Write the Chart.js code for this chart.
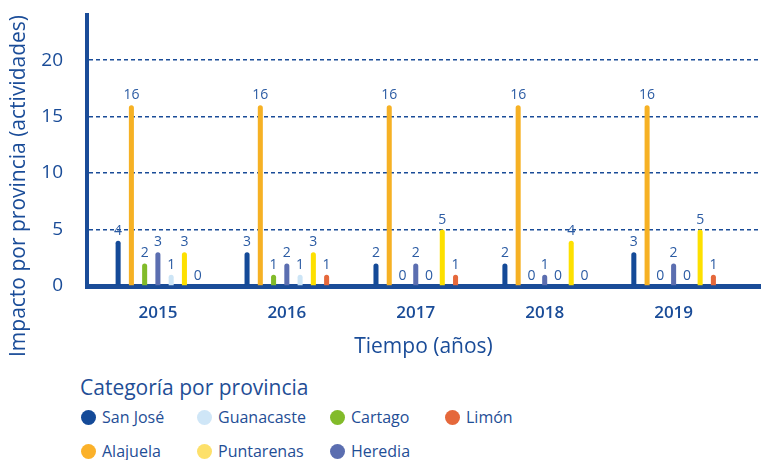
<!DOCTYPE html>
<html>
<head>
<meta charset="utf-8">
<script src="https://cdn.jsdelivr.net/npm/chart.js@4/dist/chart.umd.min.js"></script>
<style>
  body { margin: 0; background: #fff; font-family: "Open Sans", sans-serif; color: #1f4e96; }
  #wrap { position: relative; width: 765px; height: 460px; }
  #legend { position: absolute; left: 0; top: 370px; width: 765px; height: 90px; }
  #legend .title { position: absolute; left: 80px; top: 3px; font-size: 21px; }
  #legend .item { position: absolute; font-size: 16px; white-space: nowrap; }
  #legend .dot { position: absolute; width: 15px; height: 15px; border-radius: 50%; left: -8px; top: 3px; }
  #legend .item span { position: absolute; left: 13px; top: -1px; }
</style>
</head>
<body>
<div id="wrap">
  <canvas id="barChart" width="765" height="370"></canvas>
  <div id="legend"><div class="title">Categoría por provincia</div></div>
</div>
<script>
const years = ['2015', '2016', '2017', '2018', '2019'];
const yTicks = [0, 5, 10, 15, 20];

const sanJose    = [4, 3, 2, 2, 3];
const alajuela   = [16, 16, 16, 16, 16];
const cartago    = [2, 1, 0, 0, 0];
const heredia    = [3, 2, 2, 1, 2];
const guanacaste = [1, 1, 0, 0, 0];
const puntarenas = [3, 3, 5, 4, 5];
const limon      = [0, 1, 1, 0, 1];

const blue = '#1a4c98';

// bar order inside each year group
const series = [
    { label: 'San José',   data: sanJose,    color: '#144a98', legend: '#144a98' },
    { label: 'Alajuela',   data: alajuela,   color: '#f6b124', legend: '#fbb12a' },
    { label: 'Cartago',    data: cartago,    color: '#82bb2a', legend: '#82bb2a' },
    { label: 'Heredia',    data: heredia,    color: '#5b6eb0', legend: '#5b6eb0' },
    { label: 'Guanacaste', data: guanacaste, color: '#cde5f6', legend: '#cfe6f7' },
    { label: 'Puntarenas', data: puntarenas, color: '#fde000', legend: '#fde06a' },
    { label: 'Limón',      data: limon,      color: '#e5683b', legend: '#e5683b' },
];

// legend is laid out in fixed columns, like the original
const legendPos = {
    'San José':   [89, 48],  'Guanacaste': [205, 48], 'Cartago': [338, 48], 'Limón': [453, 48],
    'Alajuela':   [89, 82],  'Puntarenas': [205, 82], 'Heredia': [338, 82],
};
const legendEl = document.getElementById('legend');
series.forEach(s => {
    const p = legendPos[s.label];
    const item = document.createElement('div');
    item.className = 'item';
    item.style.left = p[0] + 'px';
    item.style.top = p[1] - 11 + 'px';
    item.innerHTML = '<div class="dot" style="background:' + s.legend + '"></div><span>' + s.label + '</span>';
    legendEl.appendChild(item);
});

// numbers above the bars + the y title (which sits lower than the plot centre)
const valueLabels = {
    id: 'valueLabels',
    afterDatasetsDraw(chart) {
        const ctx = chart.ctx;
        ctx.save();
        ctx.font = '14px "Open Sans"';
        ctx.fillStyle = '#2b5ba3';
        ctx.textAlign = 'center';
        ctx.textBaseline = 'bottom';
        chart.data.datasets.forEach((ds, i) => {
            chart.getDatasetMeta(i).data.forEach((bar, j) => {
                ctx.fillText(ds.data[j].y, bar.x, bar.y - 3);
            });
        });
        ctx.translate(19, 186);
        ctx.rotate(-Math.PI / 2);
        ctx.font = '21px "Open Sans"';
        ctx.fillStyle = blue;
        ctx.textBaseline = 'middle';
        ctx.fillText('Impacto por provincia (actividades)', 0, 0);
        ctx.restore();
    }
};

const ctx = document.getElementById('barChart').getContext('2d');
new Chart(ctx, {
    type: 'bar',
    data: {
        datasets: series.map(s => ({
            label: s.label,
            data: s.data.map((v, i) => ({ x: i, y: v })),
            backgroundColor: s.color,
            borderRadius: 3,
            borderSkipped: 'bottom',
        })),
    },
    options: {
        responsive: false,
        animation: false,
        layout: { padding: { top: 15, right: 5, left: 0, bottom: 0 } },
        plugins: { legend: { display: false }, tooltip: { enabled: false } },
        datasets: { bar: { categoryPercentage: 0.72, barPercentage: 0.38 } },
        scales: {
            x: {
                type: 'linear',
                offset: false,
                min: -0.55,
                max: 4.67,
                afterFit: scale => { scale.height = 84; },
                afterBuildTicks: scale => { scale.ticks = years.map((y, i) => ({ value: i })); },
                grid: { display: false },
                border: { color: blue, width: 5 },
                ticks: {
                    padding: 9,
                    color: blue,
                    font: { family: 'Open Sans', size: 17, weight: '600' },
                    callback: v => years[v],
                },
                title: {
                    display: true,
                    text: 'Tiempo (años)',
                    color: blue,
                    font: { family: 'Open Sans', size: 21 },
                    padding: { top: 0, bottom: 10 },
                },
            },
            y: {
                min: 0,
                max: 24,
                afterFit: scale => {
                    scale.width = 87;
                    scale.paddingTop = 0;    // no extra room for the top label
                    scale.paddingBottom = 0;
                },
                afterBuildTicks: scale => { scale.ticks = yTicks.map(v => ({ value: v })); },
                grid: {
                    drawTicks: false,
                    lineWidth: 1.5,
                    color: c => (c.tick && c.tick.value === 0) ? 'rgba(0,0,0,0)' : blue,
                },
                border: { color: blue, width: 4, dash: [4, 3] },
                ticks: {
                    padding: 24,
                    color: blue,
                    font: { family: 'Open Sans', size: 19 },
                },
            },
        },
    },
    plugins: [valueLabels],
});
</script>
</body>
</html>
